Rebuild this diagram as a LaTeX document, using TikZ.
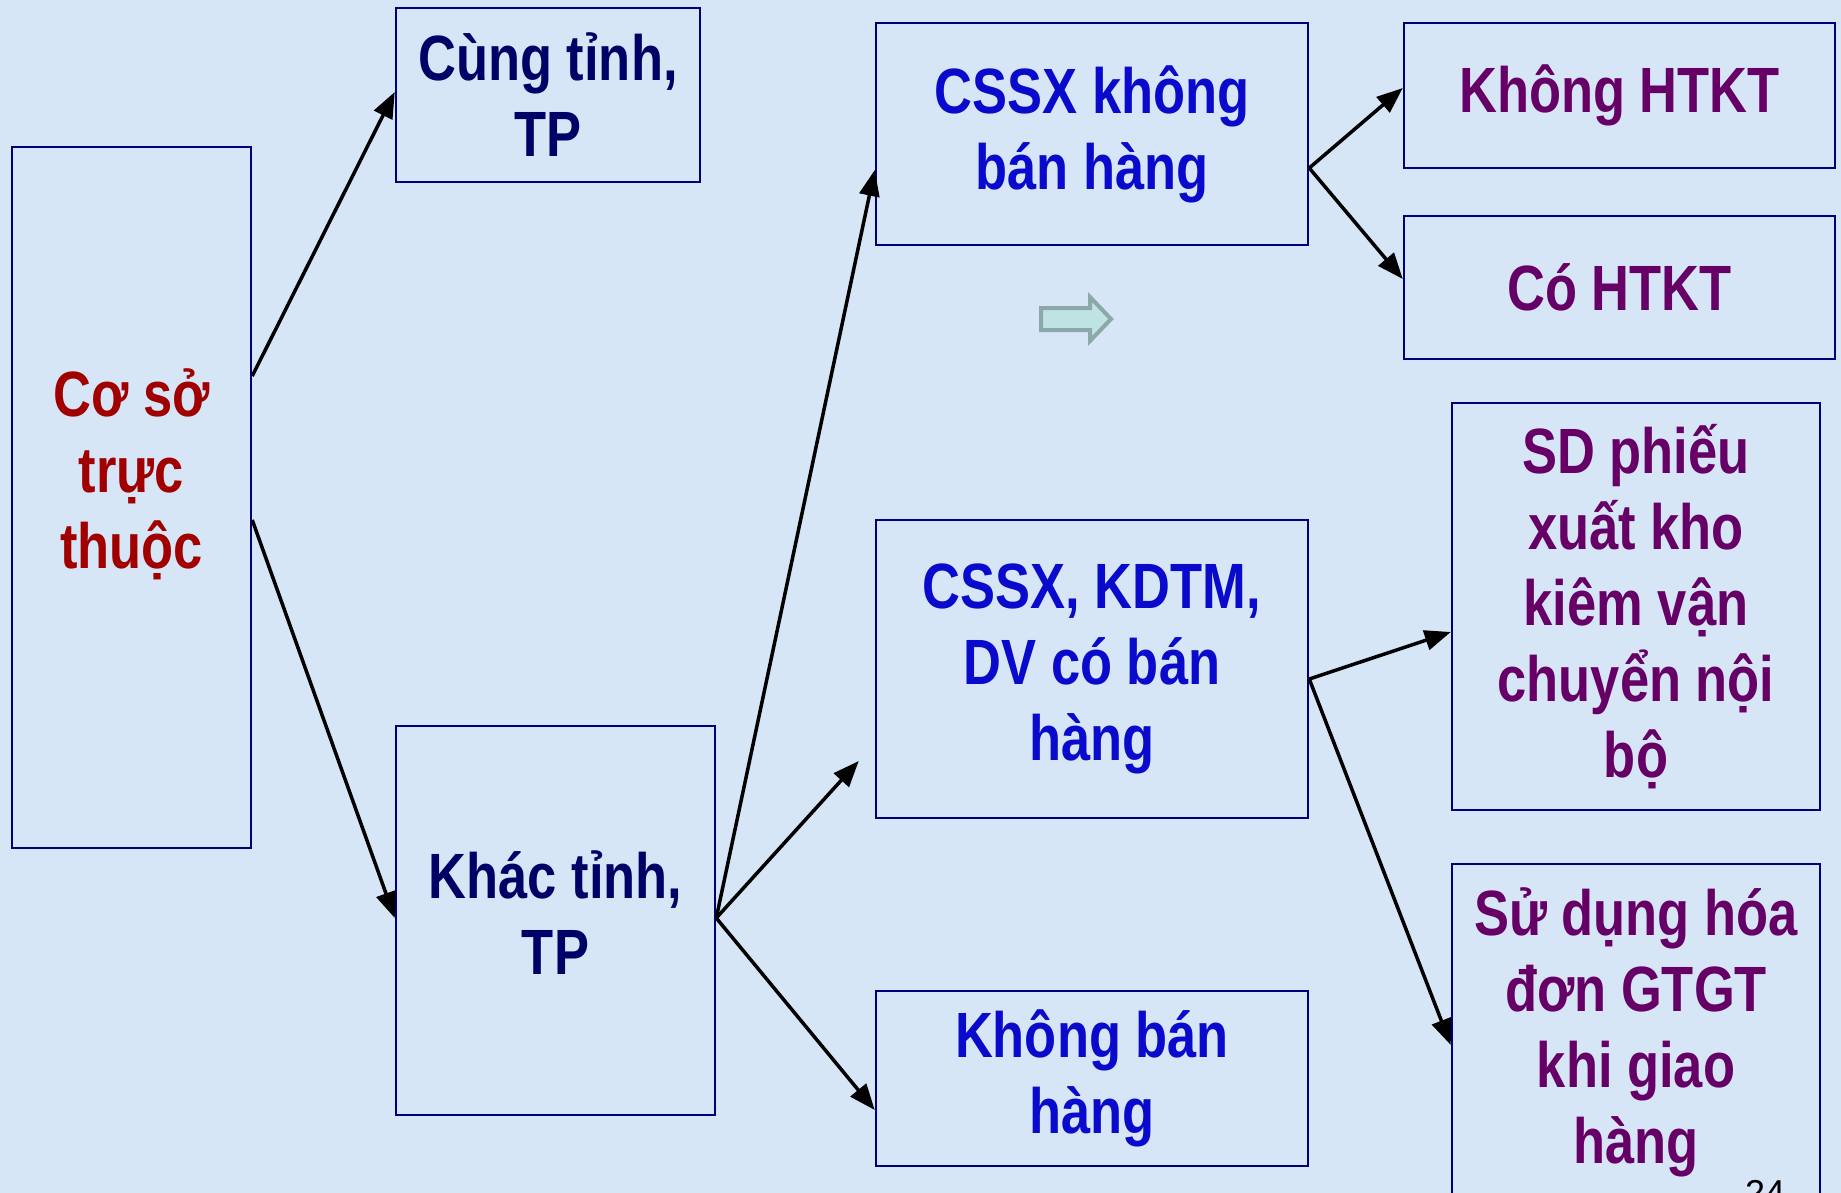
\documentclass[tikz,border=0pt]{standalone}
\usepackage{fontspec}
\newfontfamily\nar[FakeStretch=0.82]{Liberation Sans}
\usetikzlibrary{arrows.meta}
\definecolor{bg}{HTML}{D6E6F6}
\definecolor{boxline}{HTML}{00007A}
\definecolor{navytxt}{HTML}{000066}
\definecolor{bluetxt}{HTML}{0A0ACC}
\definecolor{purptxt}{HTML}{660066}
\definecolor{redtxt}{HTML}{A00000}
\definecolor{hollowfill}{HTML}{BFE3E3}
\definecolor{hollowline}{HTML}{8CA8A8}
\tikzset{
  boxfont/.style={align=center, font=\nar\bfseries\fontsize{64}{76}\selectfont},
  box/.style={draw=boxline, line width=2.5pt, inner sep=0pt, boxfont},
  conn/.style={line width=3.5pt, -{Triangle[length=26pt,width=20pt]}},
}
\begin{document}
\begin{tikzpicture}[x=1pt,y=-1pt]
\useasboundingbox (0,0) rectangle (1841,1193);
\clip (0,0) rectangle (1841,1193);
\fill[bg] (0,0) rectangle (1841,1193);

\node[box, minimum width=239pt, minimum height=701pt,
  label={[boxfont, text=redtxt, yshift=23pt]center:{Cơ sở\\trực\\thuộc}}] (a) at (131.5,497.5) {};
\node[box, text=navytxt, minimum width=304pt, minimum height=174pt] (b) at (548,95) {Cùng tỉnh,\\TP};
\node[box, minimum width=319pt, minimum height=389pt,
  label={[boxfont, text=navytxt, yshift=8pt]center:{Khác tỉnh,\\TP}}] (c) at (555.5,920.5) {};
\node[box, text=bluetxt, minimum width=432pt, minimum height=222pt] (d) at (1092,134) {CSSX không\\bán hàng};
\node[box, text=bluetxt, minimum width=432pt, minimum height=298pt] (e) at (1092,669) {CSSX, KDTM,\\DV có bán\\hàng};
\node[box, text=bluetxt, minimum width=432pt, minimum height=175pt] (f) at (1092,1078.5) {Không bán\\hàng};
\node[box, text=purptxt, minimum width=431pt, minimum height=145pt] (g) at (1619.5,95.5) {Không HTKT};
\node[box, text=purptxt, minimum width=431pt, minimum height=143pt] (h) at (1619.5,287.5) {Có HTKT};
\node[box, text=purptxt, minimum width=368pt, minimum height=407pt] (i) at (1636,606.5) {SD phiếu\\xuất kho\\kiêm vận\\chuyển nội\\bộ};
\node[box, text=purptxt, minimum width=368pt, minimum height=336pt] (j) at (1636,1032) {Sử dụng hóa\\đơn GTGT\\khi giao\\hàng};

\node[anchor=base, font=\fontspec{Liberation Sans}\fontsize{36}{40}\selectfont, inner sep=0pt] (pg) at (1765,1205) {24};

\draw[hollowline, fill=hollowfill, line width=4pt, line join=miter]
  (1041,308) -- (1090,308) -- (1090,297) -- (1111,319) -- (1090,341) -- (1090,330) -- (1041,330) -- cycle;

\draw[conn] ([yshift=121.5pt]a.east) -- ([yshift=3pt]b.west);
\draw[conn] ([yshift=-22.5pt]a.east) -- ([yshift=2.5pt]c.west);
\draw[conn] ([yshift=2.5pt]c.east) -- ([yshift=-36pt]d.west);
\draw[conn] ([yshift=2.5pt]c.east) -- ([xshift=-16pt,yshift=-92pt]e.west);
\draw[conn] ([yshift=2.5pt]c.east) -- ([yshift=-31.5pt]f.west);
\draw[conn] ([yshift=-34pt]d.east) -- ([yshift=7.5pt]g.west);
\draw[conn] ([yshift=-34pt]d.east) -- ([yshift=8.5pt]h.west);
\draw[conn] ([yshift=-10pt]e.east) -- ([yshift=-25.5pt]i.west);
\draw[conn] ([yshift=-10pt]e.east) -- ([yshift=-13pt]j.west);
\end{tikzpicture}
\end{document}
